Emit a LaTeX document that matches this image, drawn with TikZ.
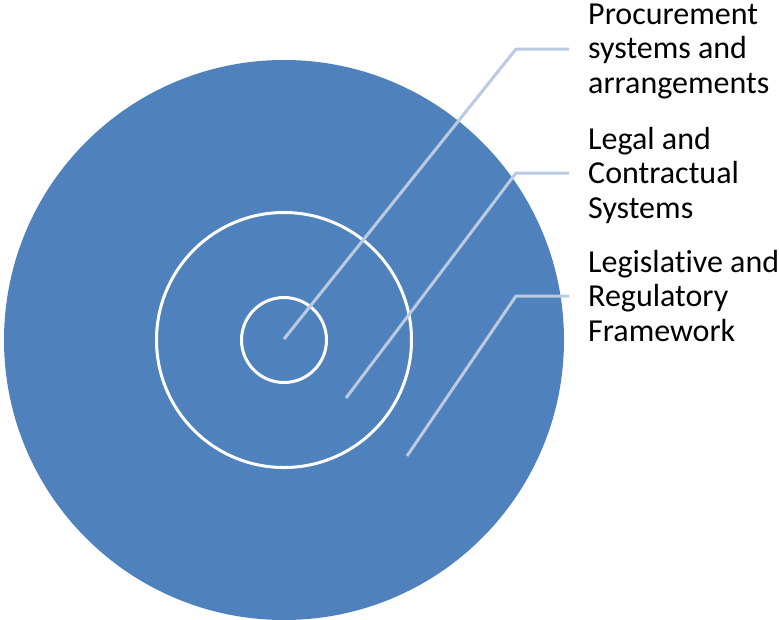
\documentclass[tikz,border=0pt]{standalone}
\usepackage{fontspec}
\setmainfont[Ligatures=NoCommon]{Carlito}
\usepackage{xcolor}
\usetikzlibrary{positioning}

\definecolor{ringblue}{HTML}{4F81BD}
\definecolor{leadergray}{HTML}{BACAE1}

\tikzset{
	ring/.style={circle, draw=white, line width=3pt, inner sep=0pt},
	leader/.style={draw=leadergray, line width=3pt},
	tag/.style={align=left, inner sep=0pt, font=\fontsize{32}{34.5}\selectfont}
}

\begin{document}
\begin{tikzpicture}[x=1pt, y=-1pt]
	\def\cx{284};
	\def\cy{340};
	\def\bendx{516};
	\def\endx{569};

	\useasboundingbox (0,0) rectangle (779,619);

	\begin{scope}
		\node[circle, fill=ringblue, inner sep=0pt, minimum size=560pt] (outer) at (\cx,\cy) {};
		\node[ring, minimum size=255pt] (middle) at (\cx,\cy) {};
		\node[ring, minimum size=85pt] (inner) at (\cx,\cy) {};
	\end{scope}

	\coordinate (pin1) at (284,339);
	\coordinate (pin2) at (346,398);
	\coordinate (pin3) at (407,456);
	\coordinate (bend1) at (\bendx,49);
	\coordinate (bend2) at (\bendx,173);
	\coordinate (bend3) at (\bendx,296);
	\coordinate (end1) at (\endx,49);
	\coordinate (end2) at (\endx,173);
	\coordinate (end3) at (\endx,296);

	\node[tag, anchor=west, right=19pt of end1, yshift=-2pt] (procure) {Procurement\\systems and\\arrangements};
	\node[tag, anchor=west, right=19pt of end2, yshift=-2pt] (legal) {Legal and\\Contractual\\Systems};
	\node[tag, anchor=west, right=19pt of end3, yshift=0pt] (legis) {Legislative and\\Regulatory\\Framework};

	\begin{scope}[leader]
		\draw (pin1) -- (bend1) -- (end1);
		\draw (pin2) -- (bend2) -- (end2);
		\draw (pin3) -- (bend3) -- (end3);
	\end{scope}
\end{tikzpicture}
\end{document}
